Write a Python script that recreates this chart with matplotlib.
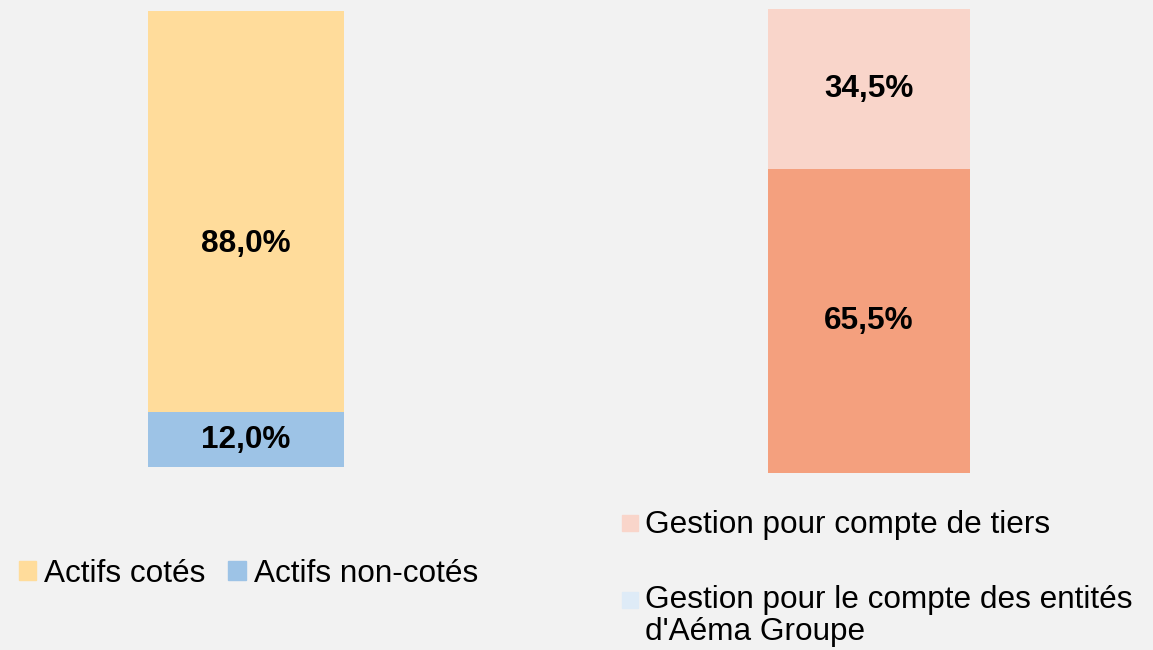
import matplotlib.pyplot as plt
from matplotlib.patches import Patch, Rectangle
from matplotlib.transforms import offset_copy

plt.rcParams['font.family'] = ['Liberation Sans', 'DejaVu Sans']

# left chart: listed vs unlisted assets
left_labels = ["Actifs non-cotés", "Actifs cotés"]
left_values = [12.0, 88.0]
left_colors = ["#9dc3e6", "#ffdc9b"]

# right chart: management split
right_labels = ["Gestion pour le compte des entités\nd'Aéma Groupe", "Gestion pour compte de tiers"]
right_values = [65.5, 34.5]
right_colors = ["#f4a07e", "#f9d5ca"]
right_legend_colors = ["#deebf7", "#f9d5ca"]

W, H = 1153, 650
bg = "#f2f2f2"
fs = 22.7
fig = plt.figure(figsize=(W / 100, H / 100), dpi=100, facecolor=bg)


def draw_stack(rect, values, colors, label_shift=None):
    ax = fig.add_axes(rect)
    ax.set_facecolor(bg)
    label_shift = label_shift or [0] * len(values)
    bottom = 0
    for v, c, dy in zip(values, colors, label_shift):
        ax.bar(0, v, bottom=bottom, width=1, color=c)
        tr = offset_copy(ax.transData, fig=fig, y=dy, units="dots")
        ax.text(0, bottom + v / 2, f"{v:.1f}%".replace(".", ","), ha="center", va="center",
                fontsize=fs, fontweight="bold", color="black", transform=tr)
        bottom += v
    ax.set_xlim(-0.5, 0.5)
    ax.set_ylim(0, bottom)
    ax.axis("off")
    return ax


draw_stack([148 / W, (H - 467) / H, 196 / W, 456 / H], left_values, left_colors, [0, -32])
draw_stack([768 / W, (H - 473) / H, 202 / W, 464 / H], right_values, right_colors)

# left legend (one row)
left_handles = [Patch(color=left_colors[1]), Patch(color=left_colors[0])]
fig.legend(left_handles, [left_labels[1], left_labels[0]], ncol=2, frameon=False,
           loc="center left", bbox_to_anchor=(19 / W, (H - 574) / H),
           fontsize=fs, handlelength=0.55, handleheight=0.55, handletextpad=0.25,
           columnspacing=0.72, borderpad=0, borderaxespad=0)

# right legend, drawn by hand so the marker sits on the first line
for (lab, col), top, mk in zip([(right_labels[1], right_legend_colors[1]),
                                (right_labels[0], right_legend_colors[0])],
                               [510, 585], [515, 592]):
    fig.add_artist(Rectangle((622 / W, 1 - (mk + 16) / H), 16 / W, 16 / H,
                             transform=fig.transFigure, color=col))
    fig.text(645 / W, 1 - top / H, lab, ha="left", va="top", fontsize=fs, linespacing=1.1)

fig.savefig("out.png", dpi=100, facecolor=bg)
